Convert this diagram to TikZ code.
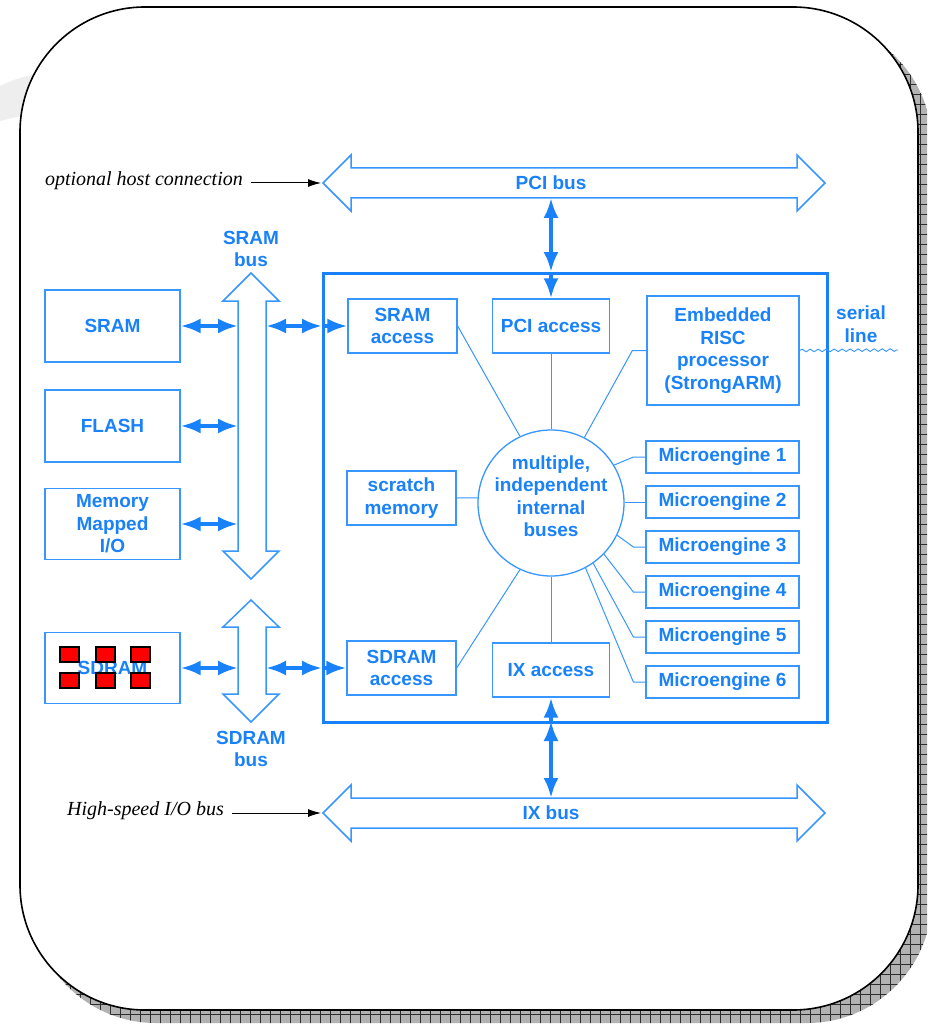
\documentclass[tikz,border=0pt]{standalone}
\usepackage{fontspec}
\setmainfont{Liberation Serif}
\setsansfont{Liberation Sans}
\usetikzlibrary{arrows.meta,patterns.meta,decorations.pathmorphing}
\definecolor{busblue}{RGB}{25,130,250}
\definecolor{lineblue}{RGB}{55,150,255}
\begin{document}
\begin{tikzpicture}[x=1pt,y=-1pt,
  lbl/.style={font=\sffamily\bfseries\fontsize{19}{22.5}\selectfont, text=busblue, align=center, inner sep=0pt},
  unit/.style={lbl, draw=lineblue, line width=1.3pt, fill=white},
  note/.style={font=\itshape\fontsize{20}{24}\selectfont, inner sep=0pt},
  wire/.style={draw=lineblue, line width=1pt},
  link/.style={draw=busblue, line width=3.8pt, {Latex[length=20pt,width=15pt]}-{Latex[length=20pt,width=15pt]}},
  feed/.style={draw=busblue, line width=3.8pt, -{Latex[length=20pt,width=15pt]}},
  hostarrow/.style={draw=black, line width=1pt, -{Latex[length=13pt,width=8pt]}},
  busshape/.style={draw=lineblue, line width=1.5pt, fill=white, line join=miter},
  chipcell/.style={fill=red, draw=black, line width=1.3pt},
]
\useasboundingbox (0,0) rectangle (927,1024);
\clip (0,0) rectangle (927,1024);

% light bevel at the upper left
\fill[gray!13] (0,86) .. controls (14,79) and (28,75) .. (45,73) -- (45,110) -- (0,121) -- cycle;

% hatched drop shadow of the frame
\fill[gray!60, rounded corners=125pt] (31,20) rectangle (932,1023);
\fill[pattern={Lines[angle=0,distance=10pt,line width=0.6pt]}, pattern color=gray!35!black, rounded corners=125pt] (31,20) rectangle (932,1023);
\fill[pattern={Lines[angle=90,distance=10pt,line width=0.6pt]}, pattern color=gray!35!black, rounded corners=125pt] (31,20) rectangle (932,1023);

% frame
\draw[line width=1.6pt, fill=white, rounded corners=125pt] (20,7) rectangle (918,1010);

% network processor chip outline
\node[draw=busblue, line width=3pt, minimum width=504pt, minimum height=449pt, inner sep=0pt, anchor=north west] (chip) at (322,272) {};

% PCI bus
\draw[busshape] (323,183) -- (351,155) -- (351,168) -- (797,168) -- (797,155) -- (825,183)
  -- (797,211) -- (797,198) -- (351,198) -- (351,211) -- cycle;
\node[lbl] (pcilbl) at (551,183) {PCI bus};
\coordinate (pcitip) at (321,183);
\coordinate (pcishaft) at (551,198);

% IX bus
\draw[busshape] (323,813) -- (351,785) -- (351,798) -- (797,798) -- (797,785) -- (825,813)
  -- (797,841) -- (797,828) -- (351,828) -- (351,841) -- cycle;
\node[lbl] (ixlbl) at (551,813) {IX bus};
\coordinate (ixtip) at (321,813);
\coordinate (ixshaft) at (551,798);

% SRAM bus
\draw[busshape] (251,273) -- (279,301) -- (266,301) -- (266,551) -- (279,551) -- (251,579)
  -- (223,551) -- (238,551) -- (238,301) -- (223,301) -- cycle;
\node[lbl] (srambuslbl) at (251,249) {SRAM\\bus};

% SDRAM bus
\draw[busshape] (251,600) -- (279,627) -- (266,627) -- (266,694) -- (279,694) -- (251,722)
  -- (223,694) -- (238,694) -- (238,627) -- (223,627) -- cycle;
\node[lbl] (sdrambuslbl) at (251,749) {SDRAM\\bus};

% external memories
\node[unit, minimum width=135pt, minimum height=72pt] (sram) at (112.5,326) {SRAM};
\node[unit, minimum width=135pt, minimum height=72pt] (flash) at (112.5,426) {FLASH};
\node[unit, minimum width=135pt, minimum height=71pt] (mmio) at (112.5,524) {Memory\\Mapped\\I/O};
\node[unit, minimum width=135pt, minimum height=71pt] (sdram) at (112.5,668) {SDRAM};
\foreach \cx in {60,96,131}{
  \filldraw[chipcell] (\cx,647) rectangle ++(19,15);
  \filldraw[chipcell] (\cx,673) rectangle ++(19,15);
}

% units inside the chip
\node[unit, minimum width=109pt, minimum height=54pt] (sramacc) at (402.5,326) {SRAM\\access};
\node[unit, minimum width=117pt, minimum height=54pt] (pciacc) at (551,326) {PCI access};
\node[unit, minimum width=152pt, minimum height=109pt] (risc) at (723,350.5) {Embedded\\RISC\\processor\\(StrongARM)};
\node[unit, minimum width=109pt, minimum height=54pt] (scratch) at (401.5,498) {scratch\\memory};
\node[unit, minimum width=109pt, minimum height=54pt] (sdramacc) at (401.5,668) {SDRAM\\access};
\node[unit, minimum width=117pt, minimum height=54pt] (ixacc) at (551,670) {IX access};
\foreach \k in {1,...,6}{
  \node[unit, minimum width=153pt, minimum height=32pt] (me\k) at (722.5,{457+45*(\k-1)}) {Microengine \k};
}

% internal bus hub
\node[circle, draw=lineblue, line width=1.3pt, minimum size=146pt, inner sep=0pt] (c) at (551,503) {};
\node[lbl] (clbl) at (551,496) {multiple,\\independent\\internal\\buses};

% spokes to the hub
\draw[wire] (sramacc.east) -- (c.115);
\draw[wire] (pciacc.south) -- (c.north);
\draw[wire] (risc.west) -- ++(-14,0) -- (c.63);
\draw[wire] (scratch.east) -- (c.176);
\draw[wire] (sdramacc.east) -- (c.-115);
\draw[wire] (ixacc.north) -- (c.south);
\draw[wire] (me1.west) -- ++(-12,0) -- (c.31);
\draw[wire] (me2.west) -- (me2.west -| c.east);
\draw[wire] (me3.west) -- ++(-12,0) -- (c.-26);
\draw[wire] (me4.west) -- ++(-12,0) -- (c.-44);
\draw[wire] (me5.west) -- ++(-12,0) -- (c.-55);
\draw[wire] (me6.west) -- ++(-12,0) -- (c.-62);

% serial line
\coordinate (serialend) at (898,350);
\draw[draw=lineblue, line width=0.9pt, decorate, decoration={snake, amplitude=1.3pt, segment length=8pt}] (risc.east) -- (serialend);
\node[lbl] (seriallbl) at (861,324) {serial\\line};

% memory bus connections
\coordinate (sramL) at (238,326);
\coordinate (sramR) at (266,326);
\coordinate (sramIn) at (322,326);
\draw[link] (sram.east) -- (sramL);
\draw[link] (sramR) -- (sramIn);
\draw[feed] (sramIn) -- (sramacc.west);
\draw[link] (flash.east) -- (flash.east -| sramL);
\draw[link] (mmio.east) -- (mmio.east -| sramL);
\coordinate (sdramL) at (238,668);
\coordinate (sdramR) at (266,668);
\coordinate (sdramIn) at (322,668);
\draw[link] (sdram.east) -- (sdramL);
\draw[link] (sdramR) -- (sdramIn);
\draw[feed] (sdramIn) -- (sdramacc.west);

% PCI and IX connections
\coordinate (pciIn) at (551,272);
\draw[link] (pcishaft) -- (pciIn);
\draw[feed] (pciIn) -- (pciacc.north);
\coordinate (ixIn) at (551,721);
\draw[link] (ixshaft) -- (ixIn);
\draw[feed] (ixIn) -- (ixacc.south);

% annotations
\node[note, anchor=east] (host) at (243,181) {optional host connection};
\draw[hostarrow] ([xshift=8pt]host.east |- pcitip) -- (pcitip);
\node[note, anchor=east] (hsio) at (224,811) {High-speed I/O bus};
\draw[hostarrow] ([xshift=8pt]hsio.east |- ixtip) -- (ixtip);
\end{tikzpicture}
\end{document}
